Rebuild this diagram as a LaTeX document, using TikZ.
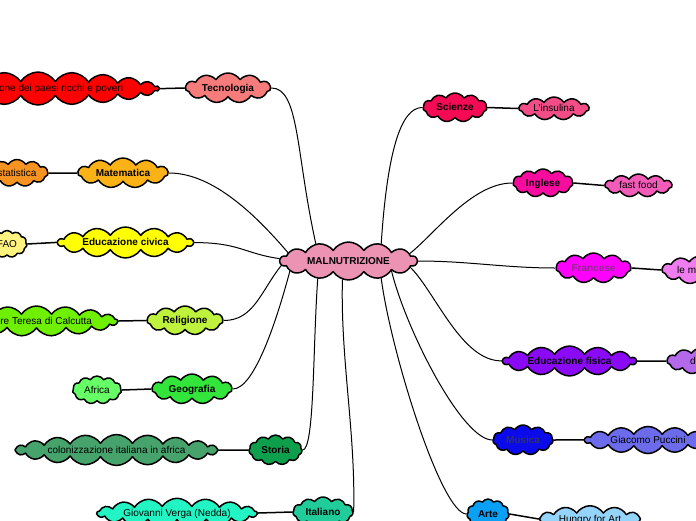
\documentclass[tikz,border=0pt]{standalone}
\usepackage{fontspec}
\setmainfont{Liberation Sans}
\usetikzlibrary{shapes.symbols}

% colours of the clouds
\definecolor{cMal}{HTML}{EC92B2}
\definecolor{cTec}{HTML}{F67C7C}
\definecolor{cRed}{HTML}{FF0000}
\definecolor{cMat}{HTML}{FBB217}
\definecolor{cStat}{HTML}{F79321}
\definecolor{cCiv}{HTML}{FFFF00}
\definecolor{cFao}{HTML}{FFF380}
\definecolor{cRel}{HTML}{BEF23C}
\definecolor{cTeresa}{HTML}{6EF000}
\definecolor{cGeo}{HTML}{33E53B}
\definecolor{cAfrica}{HTML}{66FF66}
\definecolor{cSto}{HTML}{0E9F4D}
\definecolor{cColon}{HTML}{47A36C}
\definecolor{cIta}{HTML}{20CC99}
\definecolor{cVerga}{HTML}{22F5C3}
\definecolor{cSci}{HTML}{F50A55}
\definecolor{cIns}{HTML}{F24D86}
\definecolor{cIng}{HTML}{F80CA0}
\definecolor{cFast}{HTML}{F25CB8}
\definecolor{cFra}{HTML}{FF00FF}
\definecolor{cFraTxt}{HTML}{8A2E8A}
\definecolor{cLem}{HTML}{F07DF0}
\definecolor{cFis}{HTML}{8A0AF5}
\definecolor{cDieta}{HTML}{B469EB}
\definecolor{cMus}{HTML}{0A0AEB}
\definecolor{cMusTxt}{HTML}{303068}
\definecolor{cPuc}{HTML}{6B6BEB}
\definecolor{cArte}{HTML}{0AA0F5}
\definecolor{cHung}{HTML}{94D4FA}

\tikzset{
  idea/.style={cloud, cloud ignores aspect, cloud puffs=11, cloud puff arc=115,
    draw=black, line width=1.5pt, inner sep=1pt, minimum height=30pt,
    text height=7pt, text depth=1pt,
    font=\fontsize{10}{12}\selectfont\bfseries},
  leaf/.style={idea, minimum height=25pt, font=\fontsize{10}{12}\selectfont},
  branch/.style={line width=1pt},
  twig/.style={line width=1.5pt},
}

\begin{document}
\begin{tikzpicture}[x=1pt, y=-1pt, line cap=round, line join=round]
  \useasboundingbox (0,0) rectangle (696,520);
  \clip (0,0) rectangle (696,520);

  % centre
  \node[idea, fill=cMal, cloud puffs=14, minimum width=137pt, minimum height=38pt] (mal) at (348.5,261) {MALNUTRIZIONE};

  % left side
  \node[idea, fill=cTec, minimum width=85pt] (tec) at (228,88) {Tecnologia};
  \node[leaf, fill=cRed, cloud puffs=22, minimum width=234pt, minimum height=27pt] (ricchi) at (38,88.5) {Alimentazione dei paesi ricchi e poveri};
  \node[idea, fill=cMat, minimum width=90pt] (mat) at (123,173) {Matematica};
  \node[leaf, fill=cStat, minimum width=62pt, minimum height=27pt] (stat) at (17,173) {statistica};
  \node[idea, fill=cCiv, cloud puffs=14, minimum width=135pt, minimum height=31pt] (civ) at (125.5,242.5) {Educazione civica};
  \node[leaf, fill=cFao, minimum width=40pt, minimum height=27pt] (fao) at (7,244) {FAO};
  \node[idea, fill=cRel, minimum width=76pt, minimum height=29pt] (rel) at (185,320.5) {Religione};
  \node[leaf, fill=cTeresa, cloud puffs=17, minimum width=162pt, minimum height=26pt] (teresa) at (36.5,321) {Madre Teresa di Calcutta};
  \node[idea, fill=cGeo, minimum width=80pt] (geo) at (192,389) {Geografia};
  \node[leaf, fill=cAfrica, minimum width=49pt, minimum height=28pt] (africa) at (97,390) {Africa};
  \node[idea, fill=cSto, minimum width=53pt] (sto) at (275.5,450) {Storia};
  \node[leaf, fill=cColon, cloud puffs=20, minimum width=203pt, minimum height=24pt] (colon) at (116.5,450) {colonizzazione italiana in africa};
  \node[idea, fill=cIta, minimum width=60pt] (ita) at (323,512) {Italiano};
  \node[leaf, fill=cVerga, cloud puffs=17, minimum width=160pt, minimum height=26pt] (verga) at (177,513) {Giovanni Verga (Nedda)};

  % right side
  \node[idea, fill=cSci, minimum width=64pt, minimum height=29pt] (sci) at (455,107.5) {Scienze};
  \node[leaf, fill=cIns, minimum width=70pt, minimum height=23pt] (insulina) at (554,108.5) {L'insulina};
  \node[idea, fill=cIng, minimum width=60pt, minimum height=28pt] (ing) at (543,183) {Inglese};
  \node[leaf, fill=cFast, minimum width=67pt, minimum height=23pt] (fast) at (638.5,185.5) {fast food};
  \node[idea, fill=cFra, text=cFraTxt, minimum width=75pt] (fra) at (593.5,268) {Francese};
  \node[leaf, fill=cLem, minimum width=76pt, minimum height=28pt] (lem) at (700,270) {le malattie};
  \node[idea, fill=cFis, cloud puffs=14, minimum width=133pt] (fis) at (569.5,361) {Educazione fisica};
  \node[leaf, fill=cDieta, minimum width=68pt, minimum height=26pt] (dieta) at (701,361) {dieta};
  \node[idea, fill=cMus, text=cMusTxt, minimum width=60pt] (mus) at (523,440) {Musica};
  \node[leaf, fill=cPuc, cloud puffs=14, minimum width=126pt, minimum height=25pt] (puc) at (648,440) {Giacomo Puccini};
  \node[idea, fill=cArte, minimum width=42pt] (arte) at (488,514) {Arte};
  \node[leaf, fill=cHung, cloud puffs=12, minimum width=101pt, minimum height=26pt] (hung) at (590,519) {Hungry for Art};

  % branches from the centre
  \draw[branch] (tec.east) .. controls +(28,0) and +(-20,-90) .. (mal.152);
  \draw[branch] (mat.east) .. controls +(45,0) and +(-30,-35) .. (mal.172);
  \draw[branch] (civ.east) .. controls +(45,0) and +(-35,-5) .. (mal.178);
  \draw[branch] (rel.east) .. controls +(30,0) and +(-20,25) .. (mal.184);
  \draw[branch] (geo.east) .. controls +(22,0) and +(-12,45) .. (mal.190);
  \draw[branch] (sto.east) .. controls +(12,0) and +(-5,70) .. (mal.210);
  \draw[branch] (ita.east) .. controls +(2,-80) and +(-2,80) .. (mal.252);
  \draw[branch] (arte.west) .. controls +(-25,0) and +(10,75) .. (mal.332);
  \draw[branch] (mus.west) .. controls +(-30,0) and +(15,60) .. (mal.347);
  \draw[branch] (fis.west) .. controls +(-40,0) and +(25,25) .. (mal.354);
  \draw[branch] (fra.west) .. controls +(-50,0) and +(50,0) .. (mal.0);
  \draw[branch] (ing.west) .. controls +(-40,0) and +(25,-20) .. (mal.7);
  \draw[branch] (sci.west) .. controls +(-22,0) and +(6,-90) .. (mal.28);

  % leaves
  \draw[twig] (tec.west) -- (ricchi.east);
  \draw[twig] (mat.west) -- (stat.east);
  \draw[twig] (civ.west) -- (fao.east);
  \draw[twig] (rel.west) -- (teresa.east);
  \draw[twig] (geo.west) -- (africa.east);
  \draw[twig] (sto.west) -- (colon.east);
  \draw[twig] (ita.west) -- (verga.east);
  \draw[twig] (sci.east) -- (insulina.west);
  \draw[twig] (ing.east) -- (fast.west);
  \draw[twig] (fra.east) -- (lem.west);
  \draw[twig] (fis.east) -- (dieta.west);
  \draw[twig] (mus.east) -- (puc.west);
  \draw[twig] (arte.east) -- (hung.west);
\end{tikzpicture}
\end{document}
